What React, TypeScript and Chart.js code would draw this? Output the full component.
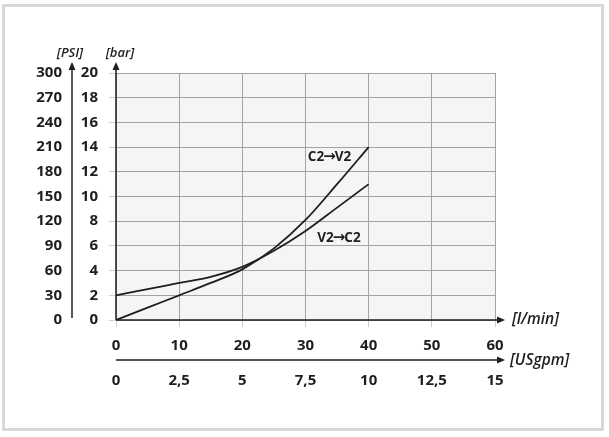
import React, { useEffect, useRef } from "react";
import { Chart, registerables } from "chart.js";

Chart.register(...registerables);

// Flow (l/min) and pressure (bar)
const flowLpm = [0, 5, 10, 15, 20, 25, 30, 35, 40];
const c2v2Bar = [0, 1, 2, 3, 4.1, 5.8, 8.1, 11, 14];
const v2c2Bar = [2, 2.5, 3, 3.5, 4.3, 5.6, 7.2, 9.1, 11];
const seriesNames = ["C2\u2192V2", "V2\u2192C2"];
// label anchor points in data units (flow, bar)
const labelAnchors = [
  [33.8, 13.2],
  [35.3, 6.6],
];

const FONT = "'Open Sans', 'Liberation Sans', sans-serif";
const INK = "#1e1e1e";

function arrow(ctx: CanvasRenderingContext2D, x1: number, y1: number, x2: number, y2: number) {
  const ang = Math.atan2(y2 - y1, x2 - x1);
  const len = 8;
  const half = 3.5;
  const bx = x2 - Math.cos(ang) * len;
  const by = y2 - Math.sin(ang) * len;
  ctx.beginPath();
  ctx.moveTo(x1, y1);
  ctx.lineTo(bx, by);
  ctx.stroke();
  ctx.beginPath();
  ctx.moveTo(x2, y2);
  ctx.lineTo(bx - Math.sin(ang) * half, by + Math.cos(ang) * half);
  ctx.lineTo(bx + Math.sin(ang) * half, by - Math.cos(ang) * half);
  ctx.closePath();
  ctx.fill();
}

// draw "A→B" with a heavier arrow glyph, centred at (cx, cy)
function drawLabel(ctx: CanvasRenderingContext2D, text: string, cx: number, cy: number) {
  const parts = text.split("\u2192");
  const fText = `bold 13.5px ${FONT}`;
  const fArrow = `bold 15px 'DejaVu Sans', sans-serif`;
  ctx.font = fText;
  const w0 = ctx.measureText(parts[0]).width;
  const w2 = ctx.measureText(parts[1]).width;
  ctx.font = fArrow;
  const w1 = ctx.measureText("\u2192").width - 2;
  const total = w0 + w1 + w2;
  let x = cx - total / 2;
  ctx.textAlign = "left";
  ctx.textBaseline = "middle";
  ctx.font = fText;
  ctx.fillText(parts[0], x, cy);
  x += w0;
  ctx.font = fArrow;
  ctx.fillText("\u2192", x - 1, cy);
  x += w1;
  ctx.font = fText;
  ctx.fillText(parts[1], x, cy);
}

const decor = {
  id: "decor",
  beforeDraw(chart: any) {
    const { ctx, chartArea: a } = chart;
    ctx.save();
    ctx.fillStyle = "#ffffff";
    ctx.fillRect(0, 0, chart.width, chart.height);
    ctx.fillStyle = "#f5f5f5";
    ctx.fillRect(a.left, a.top, a.right - a.left, a.bottom - a.top);
    ctx.strokeStyle = "#d9d9d9";
    ctx.lineWidth = 3;
    ctx.strokeRect(3.5, 5.5, 599, 424);
    ctx.restore();
  },
  afterDraw(chart: any) {
    const { ctx, chartArea: a, scales } = chart;
    const x = scales.x;
    const y = scales.y;
    const y2 = scales.y2;
    const x2 = scales.x2;
    ctx.save();
    ctx.strokeStyle = INK;
    ctx.fillStyle = INK;
    ctx.lineWidth = 1.5;
    const tipY = a.top - 11;
    const tipX = a.right + 10;
    // bar axis
    arrow(ctx, a.left, a.bottom, a.left, tipY);
    // psi axis
    arrow(ctx, y2.right, a.bottom - 2, y2.right, tipY);
    // l/min axis
    arrow(ctx, a.left, a.bottom, tipX, a.bottom);
    // USgpm axis
    arrow(ctx, a.left, x2.top, tipX, x2.top);

    ctx.font = `italic 600 13px ${FONT}`;
    ctx.textBaseline = "middle";
    ctx.textAlign = "center";
    ctx.fillText("[PSI]", y2.right - 2, tipY - 9);
    ctx.fillText("[bar]", a.left + 4, tipY - 9);
    ctx.font = `italic 600 15.5px ${FONT}`;
    ctx.textAlign = "left";
    ctx.fillText("[l/min]", tipX + 7, a.bottom);
    ctx.fillText("[USgpm]", tipX + 5, x2.top + 1);

    labelAnchors.forEach((p, i) => {
      drawLabel(ctx, seriesNames[i], x.getPixelForValue(p[0]), y.getPixelForValue(p[1]));
    });
    ctx.restore();
  },
};

const fmt = (v: any) => String(v).replace(".", ",");

export default function App() {
  const ref = useRef<HTMLCanvasElement>(null);
  useEffect(() => {
    if (!ref.current) return;
    const tickFont = { family: FONT, size: 15, weight: "bold" as const };
    const chart = new Chart(ref.current, {
      type: "line",
      data: {
        datasets: [
          {
            label: seriesNames[0],
            data: flowLpm.map((f, i) => ({ x: f, y: c2v2Bar[i] })),
            borderColor: INK,
            borderWidth: 1.8,
            pointRadius: 0,
            cubicInterpolationMode: "monotone",
            fill: false,
          },
          {
            label: seriesNames[1],
            data: flowLpm.map((f, i) => ({ x: f, y: v2c2Bar[i] })),
            borderColor: INK,
            borderWidth: 1.8,
            pointRadius: 0,
            cubicInterpolationMode: "monotone",
            fill: false,
          },
        ],
      },
      options: {
        animation: false,
        responsive: false,
        devicePixelRatio: 1,
        layout: { padding: { left: 0, top: 73, right: 114, bottom: 35 } },
        plugins: { legend: { display: false }, tooltip: { enabled: false } },
        scales: {
          x: {
            type: "linear",
            position: "bottom",
            weight: 0,
            min: 0,
            max: 60,
            ticks: { stepSize: 10, font: tickFont, color: INK, padding: 10, maxRotation: 0 },
            grid: { color: "#a3a3a3", tickColor: "#cfcfcf", tickLength: 7 },
            border: { display: false },
            afterFit: (s: any) => {
              s.height = 40;
            },
          },
          x2: {
            type: "linear",
            position: "bottom",
            weight: 1,
            min: 0,
            max: 15,
            ticks: { stepSize: 2.5, font: tickFont, color: INK, padding: 12, callback: fmt, maxRotation: 0 },
            grid: { display: false, drawTicks: false },
            border: { display: false },
            afterFit: (s: any) => {
              s.height = 42;
            },
          },
          y: {
            type: "linear",
            position: "left",
            weight: 0,
            min: 0,
            max: 20,
            ticks: { stepSize: 2, font: tickFont, color: INK, padding: 11 },
            grid: { color: "#a3a3a3", tickColor: "#cfcfcf", tickLength: 7 },
            border: { display: false },
            afterFit: (s: any) => {
              s.width = 44;
            },
          },
          y2: {
            type: "linear",
            position: "left",
            weight: 1,
            min: 0,
            max: 300,
            ticks: { stepSize: 30, font: tickFont, color: INK, padding: 10 },
            grid: { display: false, drawTicks: false },
            border: { display: false },
            afterFit: (s: any) => {
              s.width = 72;
            },
          },
        },
      },
      plugins: [decor],
    });
    return () => chart.destroy();
  }, []);
  return (
    <div style={{ position: "absolute", left: 0, top: 0, width: 609, height: 437 }}>
      <canvas ref={ref} width={609} height={437} />
    </div>
  );
}
